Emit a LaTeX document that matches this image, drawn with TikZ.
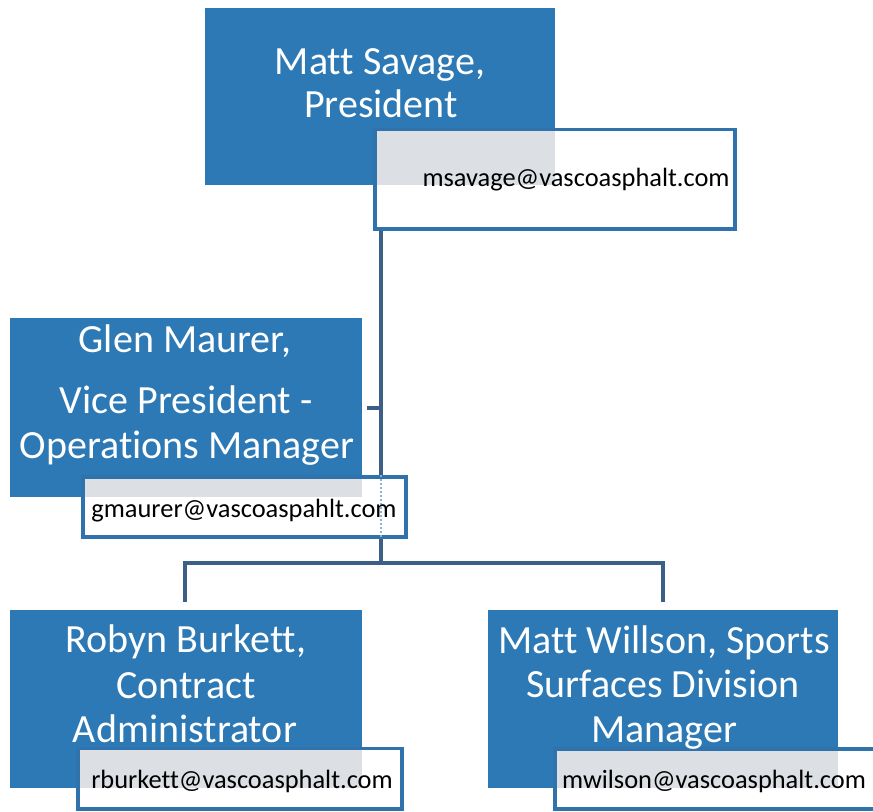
\documentclass[tikz,border=0pt]{standalone}
\usepackage{fontspec}
\setmainfont{Carlito}[Ligatures={NoCommon}]
\usetikzlibrary{fit}
\definecolor{boxblue}{HTML}{2C79B5}
\definecolor{mailedge}{HTML}{2F72AC}
\definecolor{linecol}{HTML}{3B5F86}
\definecolor{stipple}{HTML}{DCDFE3}
\tikzset{
  rolebox/.style={fill=boxblue, draw=none, inner sep=0pt},
  mailbox/.style={fill=white, draw=mailedge, line width=2.6pt, inner sep=0pt},
  roletext/.style={text=white, font=\fontsize{30}{35}\selectfont, anchor=base, inner sep=0pt},
  mailtext/.style={text=black, font=\fontsize{19.8}{23}\selectfont, anchor=base, inner sep=0pt},
  conn/.style={draw=linecol, line width=3.2pt},
  throughline/.style={draw=mailedge!55, dotted, line width=1pt},
}
\begin{document}
\begin{tikzpicture}[x=0.75pt, y=-0.75pt]
\useasboundingbox (0,0) rectangle (873,812);
\clip (0,0) rectangle (873,812);
\fill[white] (0,0) rectangle (873,812);

% junction coordinates
\coordinate (jA) at (381,563);
\coordinate (tick) at (367,408);
\coordinate (jL) at (185,563);
\coordinate (jR) at (663,563);

% role boxes
\node[rolebox, fit={(205,8) (555,185)}] (pres) {};
\node[rolebox, fit={(10,318) (362,497)}] (glen) {};
\node[rolebox, fit={(10,610) (362,788)}] (robyn) {};
\node[rolebox, fit={(488,610) (838,788)}] (willson) {};

% connectors
\draw[conn] (pres.south -| jA) -- (jA);
\draw[conn] (tick) -- (tick -| jA);
\draw[conn, shorten <=6pt, shorten >=6pt, line join=miter] (robyn.north -| jL) -- (jL) -- (jR) -- (willson.north -| jR);

% mail boxes
\node[mailbox, fit={(375,129.5) (735,229)}] (presmail) {};
\node[mailbox, fit={(83,477) (406,537)}] (glenmail) {};
\node[mailbox, fit={(78,748.5) (402,809)}] (robynmail) {};
\node[mailbox, fit={(555,749) (885,809)}] (willsonmail) {};

% stippled overlap areas
\fill[stipple] (376.8,131.3) rectangle (pres.south east);
\fill[stipple] (84.8,478.8) rectangle (glen.south east);
\fill[stipple] (79.8,750.3) rectangle (robyn.south east);
\fill[stipple] (556.8,750.8) rectangle (willson.south east);

% line seen through Glen's mail box
\draw[throughline] (glenmail.north -| jA) -- (glenmail.south -| jA);

% role texts
\node[roletext] (pres1) at (380,75) {Matt Savage,};
\node[roletext] (pres2) at (381,118) {President};
\node[roletext] (glen1) at (185,353) {Glen Maurer,};
\node[roletext] (glen2) at (186,413) {Vice President -};
\node[roletext] (glen3) at (187,458) {Operations Manager};
\node[roletext] (robyn1) at (186,652) {Robyn Burkett,};
\node[roletext] (robyn2) at (186,698) {Contract};
\node[roletext] (robyn3) at (185,742) {Administrator};
\node[roletext] (willson1) at (664,653) {Matt Willson, Sports};
\node[roletext] (willson2) at (663,697) {Surfaces Division};
\node[roletext] (willson3) at (664,742) {Manager};

% mail texts
\node[mailtext] (presaddr) at (576,187) {msavage@vascoasphalt.com};
\node[mailtext] (glenaddr) at (244,517) {gmaurer@vascoaspahlt.com};
\node[mailtext] (robynaddr) at (242,788) {rburkett@vascoasphalt.com};
\node[mailtext] (willsonaddr) at (714,788) {mwilson@vascoasphalt.com};
\end{tikzpicture}
\end{document}
